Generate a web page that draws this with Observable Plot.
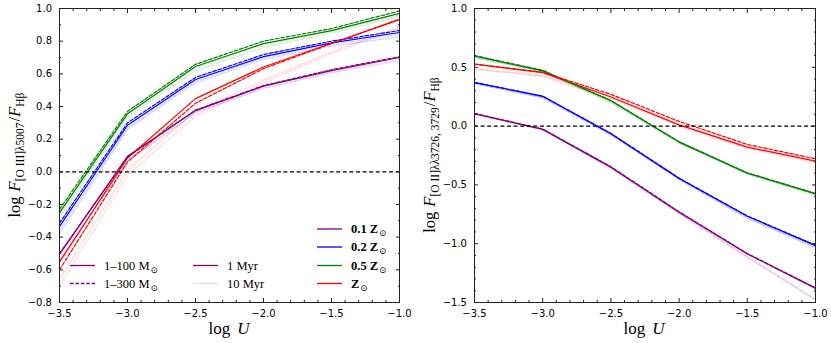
<!DOCTYPE html>
<html><head><meta charset="utf-8">
<script src="https://cdn.jsdelivr.net/npm/d3@7"></script>
<script src="https://cdn.jsdelivr.net/npm/@observablehq/plot@0.6"></script>
<style>
body{margin:0;background:#fff;}
#wrap{display:flex;width:831px;height:343px;overflow:hidden;}
#wrap svg{display:block;flex:none;}
</style></head><body><div id="wrap"></div>
<script>
// ---------- data ----------
const logU = [-3.5, -3.0, -2.5, -2.0, -1.5, -1.0];
const metallicities = ["0.1 Z⊙", "0.2 Z⊙", "0.5 Z⊙", "Z⊙"];
const zColors = ["#800080", "#0000ff", "#008000", "#ff0000"];

// [O III]5007/Hb : rows = 0.1, 0.2, 0.5, 1 Zsun ; columns = logU
const o3_m100_1Myr = [
  [-0.505, 0.095, 0.375, 0.525, 0.620, 0.700],
  [-0.335, 0.285, 0.565, 0.705, 0.790, 0.853],
  [-0.250, 0.355, 0.645, 0.785, 0.865, 0.970],
  [-0.553, 0.085, 0.448, 0.642, 0.787, 0.932]
];
const o3_m300_1Myr = [
  [-0.500, 0.090, 0.378, 0.528, 0.625, 0.705],
  [-0.315, 0.300, 0.578, 0.718, 0.800, 0.865],
  [-0.230, 0.370, 0.658, 0.800, 0.877, 0.985],
  [-0.600, 0.060, 0.420, 0.632, 0.785, 0.935]
];
const o3_m100_10Myr = [
  [-0.540, 0.070, 0.360, 0.510, 0.605, 0.680],
  [-0.380, 0.260, 0.545, 0.688, 0.770, 0.826],
  [-0.280, 0.335, 0.620, 0.760, 0.850, 0.950],
  [-0.660, 0.010, 0.370, 0.560, 0.735, 0.887]
];
const o3_m300_10Myr = [
  [-0.540, 0.065, 0.365, 0.515, 0.610, 0.690],
  [-0.360, 0.270, 0.555, 0.698, 0.780, 0.840],
  [-0.260, 0.350, 0.635, 0.775, 0.860, 0.960],
  [-0.700, -0.020, 0.340, 0.545, 0.725, 0.880]
];

// [O II]3726,3729/Hb
const o2_m100_1Myr = [
  [0.105, -0.028, -0.349, -0.732, -1.087, -1.380],
  [0.370, 0.253, -0.065, -0.445, -0.767, -1.016],
  [0.595, 0.470, 0.215, -0.136, -0.400, -0.576],
  [0.526, 0.455, 0.247, 0.010, -0.179, -0.298]
];
const o2_m300_1Myr = [
  [0.108, -0.025, -0.345, -0.728, -1.083, -1.375],
  [0.372, 0.255, -0.062, -0.442, -0.764, -1.012],
  [0.600, 0.475, 0.218, -0.133, -0.397, -0.572],
  [0.528, 0.458, 0.270, 0.040, -0.156, -0.278]
];
const o2_m100_10Myr = [
  [0.100, -0.030, -0.360, -0.745, -1.115, -1.480],
  [0.360, 0.240, -0.075, -0.455, -0.785, -1.035],
  [0.580, 0.460, 0.200, -0.145, -0.410, -0.585],
  [0.483, 0.423, 0.235, 0.000, -0.190, -0.310]
];
const o2_m300_10Myr = [
  [0.100, -0.030, -0.355, -0.740, -1.110, -1.470],
  [0.362, 0.242, -0.072, -0.450, -0.780, -1.030],
  [0.585, 0.465, 0.205, -0.140, -0.405, -0.580],
  [0.490, 0.430, 0.255, 0.020, -0.170, -0.290]
];

// ticks
const xMajor = [-3.5, -3.0, -2.5, -2.0, -1.5, -1.0];
const xMinor = [-3.4, -3.3, -3.2, -3.1, -2.9, -2.8, -2.7, -2.6, -2.4, -2.3, -2.2, -2.1, -1.9, -1.8, -1.7, -1.6, -1.4, -1.3, -1.2, -1.1];
const yLeftMajor = [-0.8, -0.6, -0.4, -0.2, 0.0, 0.2, 0.4, 0.6, 0.8, 1.0];
const yLeftMinor = [-0.7, -0.5, -0.3, -0.1, 0.1, 0.3, 0.5, 0.7, 0.9];
const yRightMajor = [-1.5, -1.0, -0.5, 0.0, 0.5, 1.0];
const yRightMinor = [-1.4, -1.3, -1.2, -1.1, -0.9, -0.8, -0.7, -0.6, -0.4, -0.3, -0.2, -0.1, 0.1, 0.2, 0.3, 0.4, 0.6, 0.7, 0.8, 0.9];

// legend labels
const imfLabels = ["1–100 M", "1–300 M"];
const ageLabels = ["1 Myr", "10 Myr"];

// ---------- helpers ----------
const fmt = d3.format(".1f");
const none = () => "";
function toRows(arr) {
  return arr.flatMap((vals, i) => vals.map((v, j) => ({Z: metallicities[i], logU: logU[j], v})));
}
const FADE = 0.16;
const DASH = "3.6,1.8";

function panel({width, yDomain, yMajor, yMinor, series}) {
  const [a, b, c, d] = series.map(toRows);
  const L = {x: "logU", y: "v", z: "Z", stroke: "Z", strokeWidth: 1.2};
  return Plot.plot({
    width, height: 343,
    marginLeft: 59, marginRight: 16, marginTop: 8, marginBottom: 41,
    x: {domain: [-3.5, -1.0]},
    y: {domain: yDomain},
    color: {domain: metallicities, range: zColors},
    style: {fontFamily: "DejaVu Sans", fontSize: "10px", color: "black", background: "white"},
    marks: [
      Plot.line(c, {...L, strokeOpacity: FADE}),
      Plot.line(d, {...L, strokeOpacity: FADE, strokeDasharray: DASH}),
      Plot.line(a, L),
      Plot.line(b, {...L, strokeDasharray: DASH}),
      Plot.ruleY([0], {stroke: "black", strokeWidth: 1.1, strokeDasharray: "4,2.6"}),
      Plot.frame({stroke: "#222", strokeWidth: 1}),
      Plot.axisX(xMajor, {anchor: "bottom", tickSize: -4, tickPadding: 11, tickFormat: fmt, label: null, stroke: "#222"}),
      Plot.axisX(xMinor, {anchor: "bottom", tickSize: -2, tickFormat: none, label: null, stroke: "#222"}),
      Plot.axisX(xMajor, {anchor: "top", tickSize: -4, tickFormat: none, label: null, stroke: "#222"}),
      Plot.axisX(xMinor, {anchor: "top", tickSize: -2, tickFormat: none, label: null, stroke: "#222"}),
      Plot.axisY(yMajor, {anchor: "left", tickSize: -4, tickPadding: 11.5, tickFormat: fmt, label: null, stroke: "#222"}),
      Plot.axisY(yMinor, {anchor: "left", tickSize: -2, tickFormat: none, label: null, stroke: "#222"}),
      Plot.axisY(yMajor, {anchor: "right", tickSize: -4, tickFormat: none, label: null, stroke: "#222"}),
      Plot.axisY(yMinor, {anchor: "right", tickSize: -2, tickFormat: none, label: null, stroke: "#222"})
    ]
  });
}

const SERIF = "'Liberation Serif', 'DejaVu Serif', serif";

function addXLabel(svg) {
  const t = d3.select(svg).append("text")
    .attr("x", 229).attr("y", 334).attr("text-anchor", "middle")
    .attr("font-family", SERIF).attr("font-size", 17).attr("fill", "black");
  t.append("tspan").text("log");
  t.append("tspan").attr("dx", 7).attr("font-style", "italic").text("U");
}

function addYLabel(svg, sub) {
  const t = d3.select(svg).append("text")
    .attr("transform", "translate(20,155) rotate(-90)").attr("text-anchor", "middle")
    .attr("font-family", SERIF).attr("font-size", 16.5).attr("fill", "black");
  t.append("tspan").text("log");
  t.append("tspan").attr("dx", 5).attr("font-style", "italic").text("F");
  t.append("tspan").attr("font-size", 11.5).attr("dy", 4).text(sub);
  t.append("tspan").attr("dy", -4).attr("dx", 1).text("/");
  t.append("tspan").attr("font-style", "italic").text("F");
  t.append("tspan").attr("font-size", 11.5).attr("dy", 4).text("Hβ");
}

function legendItem(g, x1, x2, y, color, opts, label, sunSub, bold) {
  g.append("line").attr("x1", x1).attr("x2", x2).attr("y1", y).attr("y2", y)
    .attr("stroke", color).attr("stroke-width", 1.3)
    .attr("stroke-opacity", opts.opacity ?? 1)
    .attr("stroke-dasharray", opts.dash ?? null);
  const t = g.append("text").attr("x", x2 + 9).attr("y", y + 4)
    .attr("text-anchor", "start")
    .attr("font-family", SERIF).attr("font-size", 12.5).attr("fill", "black")
    .attr("font-weight", bold ? "bold" : null);
  t.append("tspan").text(label);
  if (sunSub) t.append("tspan").attr("font-size", 9).attr("dy", 3).attr("dx", 1).attr("font-weight", "normal").text("⊙");
}

// ---------- build ----------
const wrap = document.getElementById("wrap");

const left = panel({width: 415, yDomain: [-0.8, 1.0], yMajor: yLeftMajor, yMinor: yLeftMinor,
  series: [o3_m100_1Myr, o3_m300_1Myr, o3_m100_10Myr, o3_m300_10Myr]});
addXLabel(left);
addYLabel(left, "[O III]λ5007");
const g = d3.select(left).append("g");
const purple = zColors[0];
legendItem(g, 70, 95, 265.5, purple, {}, imfLabels[0], true, false);
legendItem(g, 70, 95, 283.5, purple, {dash: DASH}, imfLabels[1], true, false);
legendItem(g, 193, 218, 265.5, purple, {}, ageLabels[0], false, false);
legendItem(g, 193, 218, 283.5, purple, {opacity: FADE}, ageLabels[1], false, false);
const zRows = [229, 247, 265.5, 283.5];
metallicities.forEach((m, i) => {
  const base = m.replace("⊙", "");
  legendItem(g, 317, 342, zRows[i], zColors[i], {}, base, true, true);
});
wrap.appendChild(left);

const right = panel({width: 416, yDomain: [-1.5, 1.0], yMajor: yRightMajor, yMinor: yRightMinor,
  series: [o2_m100_1Myr, o2_m300_1Myr, o2_m100_10Myr, o2_m300_10Myr]});
addXLabel(right);
addYLabel(right, "[O II]λλ3726, 3729");
wrap.appendChild(right);
</script>
</body></html>
